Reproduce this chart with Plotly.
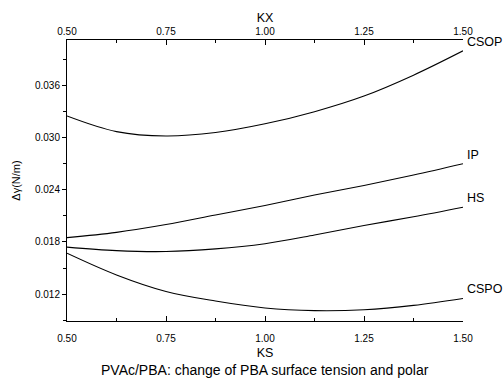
import plotly.graph_objects as go

ks = [0.5, 0.625, 0.75, 0.875, 1.0, 1.125, 1.25, 1.375, 1.5]
csop = [0.0325, 0.0307, 0.0302, 0.0306, 0.0316, 0.0330, 0.0348, 0.0372, 0.0400]
ip = [0.0185, 0.0191, 0.0200, 0.0211, 0.0222, 0.0234, 0.0245, 0.0257, 0.0270]
hs = [0.0174, 0.0170, 0.0169, 0.0172, 0.0178, 0.0188, 0.0199, 0.0209, 0.0220]
cspo = [0.0167, 0.0142, 0.0123, 0.0112, 0.0104, 0.0101, 0.0102, 0.0107, 0.0115]
series = {"CSOP": csop, "IP": ip, "HS": hs, "CSPO": cspo}

x_ticks = [0.5, 0.75, 1.0, 1.25, 1.5]
y_ticks = [0.012, 0.018, 0.024, 0.030, 0.036]

FONT = "Liberation Sans, Arial, sans-serif"

fig = go.Figure()
for name, vals in series.items():
    fig.add_trace(go.Scatter(x=ks, y=vals, mode="lines", line=dict(color="black", width=1.1, shape="spline", smoothing=1.0),
                             showlegend=False, hoverinfo="skip"))
    fig.add_annotation(x=ks[-1], y=vals[-1], text=name, showarrow=False, xanchor="left", yanchor="middle",
                       xshift=2, yshift=9, font=dict(family=FONT, size=12.5, color="black"))

# invisible traces for the extra axes
for ax in ("x2", "x3"):
    fig.add_trace(go.Scatter(x=[ks[0], ks[-1]], y=[None, None], xaxis=ax, mode="lines", showlegend=False,
                             hoverinfo="skip"))

common_x = dict(range=[0.5, 1.5], tickvals=x_ticks, tickformat=".2f", showline=True, linecolor="black",
                linewidth=1, ticks="inside", ticklen=5, tickcolor="black", showgrid=False, zeroline=False,
                tickfont=dict(family=FONT, size=10, color="black"),
                minor=dict(dtick=0.125, tick0=0.5, ticks="inside", ticklen=3, tickcolor="black"))

fig.update_layout(
    width=504, height=379,
    margin=dict(l=67, r=41, t=40, b=58),
    paper_bgcolor="white", plot_bgcolor="white",
    # bottom axis: labels pushed down by transparent outside ticks
    xaxis=dict(range=[0.5, 1.5], tickvals=x_ticks, tickformat=".2f", showline=True, linecolor="black",
               linewidth=1, ticks="outside", ticklen=8, tickcolor="rgba(0,0,0,0)", showgrid=False,
               zeroline=False, tickfont=dict(family=FONT, size=10, color="black"),
               title=dict(text="KS", font=dict(family=FONT, size=12.5, color="black"), standoff=5)),
    # inside ticks for the bottom axis
    xaxis3=dict(**common_x, overlaying="x", side="bottom", anchor="y", showticklabels=False),
    xaxis2=dict(**common_x, overlaying="x", side="top", anchor="y",
                title=dict(text="KX", font=dict(family=FONT, size=12.5, color="black"), standoff=0)),
    yaxis=dict(range=[0.0089, 0.04125], tickvals=y_ticks, tickformat=".3f", showline=True, linecolor="black",
               linewidth=1, ticks="outside", ticklen=4, tickcolor="black", showgrid=False, zeroline=False,
               tickfont=dict(family=FONT, size=10, color="black"),
               minor=dict(dtick=0.003, tick0=0.0, ticks="outside", ticklen=3, tickcolor="black"),
               title=dict(text="Δγ(N/m)", font=dict(family=FONT, size=11, color="black"), standoff=12)),
    font=dict(family=FONT, color="black"),
)

fig.add_annotation(x=0.5, y=-0.173, xref="paper", yref="paper", yanchor="middle", showarrow=False,
                   text="PVAc/PBA: change of PBA surface tension and polar",
                   font=dict(family=FONT, size=14, color="black"))

fig.write_html("out.html")
